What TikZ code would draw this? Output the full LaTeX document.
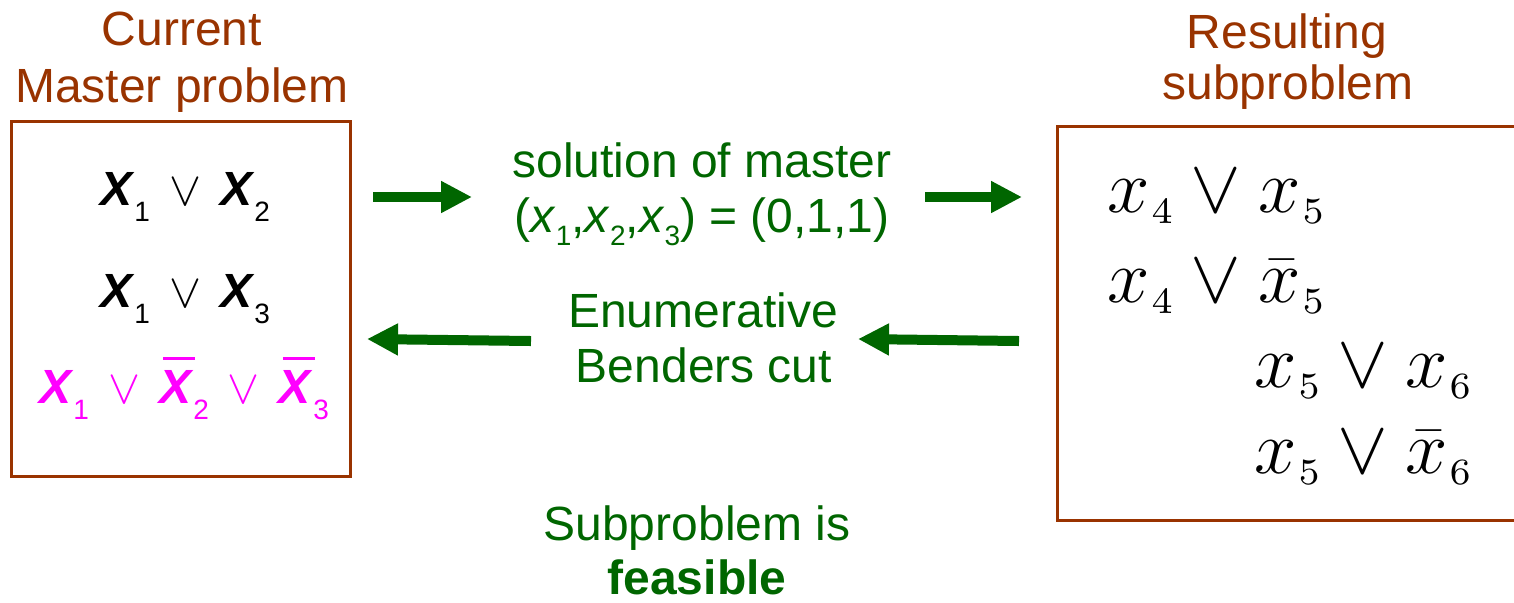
\RequirePackage{fix-cm}
\documentclass[tikz,border=0pt]{standalone}
\usepackage[no-math]{fontspec}
\setmainfont{Liberation Sans}
\usepackage{xcolor}
\usepackage{graphicx}
\usepackage{tikz}
\usetikzlibrary{arrows.meta}
\definecolor{brownish}{RGB}{153,51,0}
\definecolor{darkgreen}{RGB}{0,102,0}
\definecolor{pinkish}{RGB}{255,0,255}
\newcommand{\bx}[1]{\textbf{\textit{X}}\raisebox{-8pt}{\fontsize{14}{14}\selectfont #1}}
\newcommand{\bxbar}[1]{\makebox[0pt][l]{\hspace*{2pt}\raisebox{21.5pt}{\rule{16pt}{1.5pt}}}\bx{#1}}
\newcommand{\ix}[1]{\textit{x}\raisebox{-6.5pt}{\fontsize{14}{14}\selectfont #1}}
\newcommand{\orsym}{\hspace{9.5pt}$\vee$\hspace{9.5pt}}
\newcommand{\subdigit}[1]{\kern1pt\scalebox{2.65}{\fontsize{10}{12}\selectfont$\scriptstyle #1$}}
\newcommand{\sv}[1]{x_{\subdigit{#1}}}
\newcommand{\svbar}[1]{\bar{x}_{\subdigit{#1}}}
\tikzset{
    big font/.style={font=\fontsize{24}{28.5}\selectfont},
    title/.style={big font, text=brownish, anchor=base, inner sep=0pt},
    probbox/.style={draw=brownish, line width=1.5pt, inner sep=0pt},
    clause/.style={big font, anchor=base, inner sep=0pt},
    subclause/.style={font=\fontsize{38}{40}\selectfont, anchor=base west, inner sep=0pt,
        text height=20pt, text depth=6pt},
    note/.style={big font, text=darkgreen, anchor=base, inner sep=0pt},
    fatarrow/.style={draw=darkgreen, line width=5pt, -{Triangle[length=15.5pt,width=15pt]}}
}

\begin{document}
\begin{tikzpicture}[x=0.5pt, y=-0.5pt]
    \clip (0,0) rectangle (1514,602);
    % titles
    \node[title] (curtitle1) at (182,45) {Current};
    \node[title] (curtitle2) at (182,102) {Master problem};
    \node[title] (restitle1) at (1287,48) {Resulting};
    \node[title] (restitle2) at (1288,99) {subproblem};
    % the two boxes
    \node[probbox, minimum width=169.5pt, minimum height=177.5pt] (master) at (181,299) {};
    \node[probbox, minimum width=237pt, minimum height=197pt] (sub) at (1294.5,323.5) {};
    % master clauses
    \node[clause] (mc1) at (185,205) {\bx{1}\orsym\bx{2}};
    \node[clause] (mc2) at (185,307) {\bx{1}\orsym\bx{3}};
    \node[clause, text=pinkish] (mc3) at (184,403) {\bx{1}\orsym\bxbar{2}\orsym\bxbar{3}};
    % subproblem clauses
    \node[subclause] (sc1) at (1107,212) {$\sv{4}\vee \sv{5}$};
    \node[subclause] (sc2) at (1107,302) {$\sv{4}\vee \svbar{5}$};
    \node[subclause] (sc3) at (1254,387) {$\sv{5}\vee \sv{6}$};
    \node[subclause] (sc4) at (1254,473) {$\sv{5}\vee \svbar{6}$};
    % labels in the middle
    \node[note] (sol1) at (702,177) {solution of master};
    \node[note] (sol2) at (702,232) {(\ix{1},\ix{2},\ix{3}) = (0,1,1)};
    \node[note] (cut1) at (703,327) {Enumerative};
    \node[note] (cut2) at (704,382) {Benders cut};
    \node[note] (feas1) at (697,540) {Subproblem is};
    \node[note, font=\fontsize{24}{28.5}\selectfont\bfseries] (feas2) at (697,594) {feasible};
    % arrow ends
    \coordinate (a1s) at (373,197);
    \coordinate (a1e) at (472,197);
    \coordinate (a2s) at (925,197);
    \coordinate (a2e) at (1022,197);
    \coordinate (a3s) at (531,341);
    \coordinate (a3e) at (367,339);
    \coordinate (a4s) at (1019,341);
    \coordinate (a4e) at (858,339);
    \draw[fatarrow] (a1s) -- (a1e);
    \draw[fatarrow] (a2s) -- (a2e);
    \draw[fatarrow] (a3s) -- (a3e);
    \draw[fatarrow] (a4s) -- (a4e);
\end{tikzpicture}
\end{document}
